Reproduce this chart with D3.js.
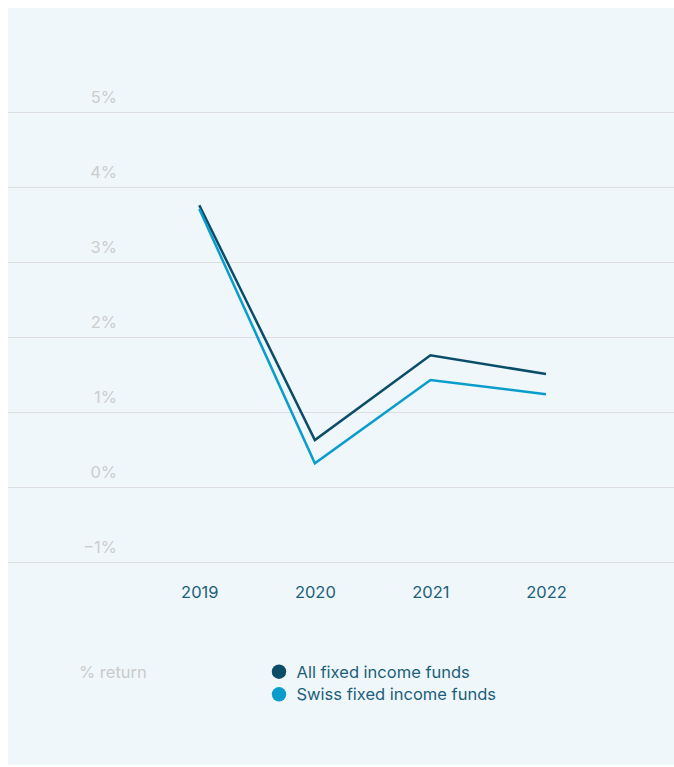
<!DOCTYPE html>
<html>
<head>
<meta charset="utf-8">
<script src="https://cdn.jsdelivr.net/npm/d3@7"></script>
<style>
  body { margin: 0; background: #fff; }
  svg { display: block; font-family: Inter, "Noto Sans", sans-serif; }
</style>
</head>
<body>
<script>
// data
var years = ["2019", "2020", "2021", "2022"];
var allFunds = [3.76, 0.63, 1.76, 1.51];
var swissFunds = [3.71, 0.32, 1.43, 1.24];
var yTicks = [-1, 0, 1, 2, 3, 4, 5];
var seriesNames = ["All fixed income funds", "Swiss fixed income funds"];
var seriesColors = ["#0b4d68", "#0a9dcc"];

var w = 674, h = 767;

var svg = d3.select("body").append("svg").attr("width", w).attr("height", h);

svg.append("rect")
  .attr("x", 8).attr("y", 8)
  .attr("width", w - 8).attr("height", 757)
  .attr("fill", "#eff7fa");

var y = d3.scaleLinear().domain([-1, 5]).range([562.3, 112.3]);
var x = d3.scalePoint().domain(years).range([199.3, 546]);

// grid + y labels
var grid = svg.append("g");
grid.selectAll("line").data(yTicks).enter().append("line")
  .attr("x1", 8).attr("x2", w)
  .attr("y1", function(d){ return Math.round(y(d)) + 0.5; })
  .attr("y2", function(d){ return Math.round(y(d)) + 0.5; })
  .attr("stroke", "#dcdedf").attr("stroke-width", 1);

grid.selectAll("text").data(yTicks).enter().append("text")
  .attr("x", 117)
  .attr("y", function(d){ return y(d) - 9; })
  .attr("text-anchor", "end")
  .attr("fill", "#cbcdce")
  .attr("font-size", 16.5)
  .text(function(d){ return (d < 0 ? "\u2212" + Math.abs(d) : d) + "%"; });

// x axis labels
var xAxis = d3.axisBottom(x).tickSize(0).tickPadding(0);
var xg = svg.append("g").attr("transform", "translate(0,586)").call(xAxis);
xg.select(".domain").remove();
xg.selectAll("text")
  .attr("fill", "#1c5f7a")
  .attr("font-size", 16.5)
  .attr("font-family", "Inter, 'Noto Sans', sans-serif");

// lines
var line = d3.line()
  .x(function(d, i){ return x(years[i]); })
  .y(function(d){ return y(d); });

[allFunds, swissFunds].forEach(function(s, i){
  svg.append("path")
    .datum(s)
    .attr("d", line)
    .attr("fill", "none")
    .attr("stroke", seriesColors[i])
    .attr("stroke-width", 2.5)
    .attr("stroke-linejoin", "miter");
});

// legend
svg.append("text")
  .attr("x", 79).attr("y", 677.5)
  .attr("fill", "#c9cbcc")
  .attr("font-size", 16.5)
  .text("% return");

var leg = svg.append("g");
seriesNames.forEach(function(name, i){
  var ly = 671.7 + i * 22.6;
  leg.append("circle")
    .attr("cx", 279).attr("cy", ly).attr("r", 7.2)
    .attr("fill", seriesColors[i]);
  leg.append("text")
    .attr("x", 296.5).attr("y", ly + 6)
    .attr("fill", "#1c5f7a")
    .attr("font-size", 16.5)
    .text(name);
});
</script>
</body>
</html>
